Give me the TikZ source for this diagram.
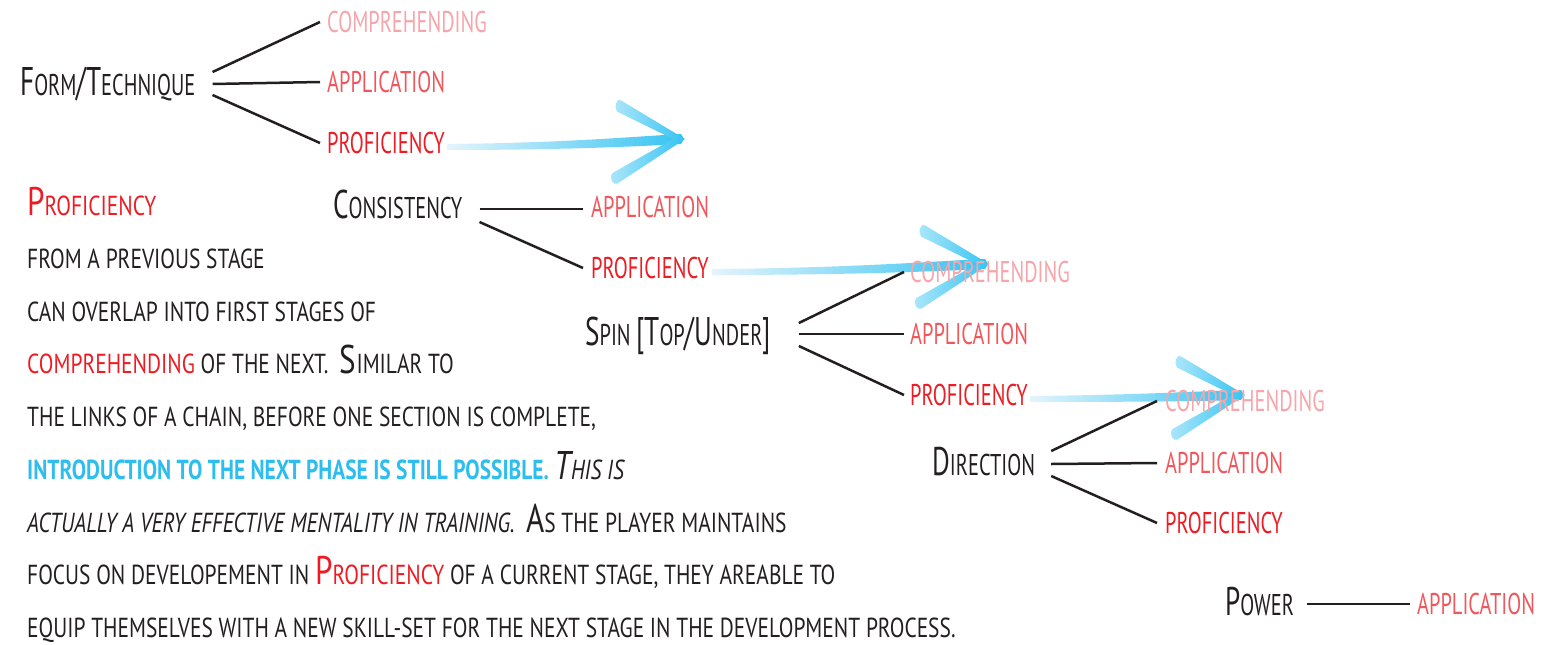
\documentclass[tikz,border=0pt]{standalone}
\usepackage{fontspec}
\setmainfont{PT Sans}[FakeStretch=0.68]
\newfontfamily\notefont{PT Sans}[FakeStretch=0.78]
\usetikzlibrary{positioning}

\definecolor{inkblack}{HTML}{231F20}
\definecolor{profred}{HTML}{ED1C24}
\definecolor{appred}{HTML}{F0575C}
\definecolor{comppink}{HTML}{F6A5AA}
\definecolor{arrowblue}{HTML}{33C3F2}
\definecolor{arrowlight}{HTML}{E4F4FC}
\definecolor{introblue}{HTML}{2DBDEE}

% bigger first letters for the small-caps look
\newcommand{\initcap}[1]{{\fontsize{40}{40}\selectfont #1}}

% blue hand-drawn arrow: tip, shaft length, drop of the shaft start
\newcommand{\flowarrow}[3]{%
  \begin{scope}[shift={(#1)}]
    \shade[left color=arrowlight, right color=arrowblue]
      (-#2,#3-3) .. controls (-0.5*#2,#3-4) and (-0.2*#2,0.3*#3-5) .. (-2,-5)
      -- (1,0) -- (-2,5)
      .. controls (-0.2*#2,0.3*#3+5) and (-0.5*#2,#3+3) .. (-#2,#3+3) -- cycle;
    \shade[left color=arrowblue!40!white, right color=arrowblue]
      (-61.9,-38.5) -- (2,0) -- (-10,0) -- (-66.1,-27.5)
      .. controls (-70,-33) and (-65,-42) .. (-61.9,-38.5) -- cycle;
    \shade[left color=arrowblue!40!white, right color=arrowblue]
      (2,0) -- (-65.5,44.5) .. controls (-69,47) and (-75,40) .. (-70.5,34)
      -- (-10,0) -- cycle;
  \end{scope}}

\begin{document}
\begin{tikzpicture}[x=1pt, y=-1pt]
\tikzstyle{heading} = [text=inkblack, inner sep=0pt, anchor=west, text height=22pt, text depth=0pt, font={\fontsize{30}{30}\selectfont}]
\tikzstyle{stage} = [inner sep=0pt, anchor=west, text height=21pt, text depth=0pt, font={\fontsize{30}{30}\selectfont}]
\tikzstyle{compr} = [stage, text=comppink]
\tikzstyle{appl} = [stage, text=appred]
\tikzstyle{prof} = [stage, text=profred]
\tikzstyle{branch} = [draw=inkblack, line width=2.5pt]
\tikzstyle{notes} = [text=inkblack, inner sep=0pt, anchor=north west, align=left, font={\notefont\fontsize{27.5}{52.75}\selectfont}]

\useasboundingbox (0,0) rectangle (1564,645);

% arrows go under the stage names
\coordinate (TipOne) at (683,139);
\coordinate (TipTwo) at (987,264);
\coordinate (TipThree) at (1243,395);
\flowarrow{TipOne}{236}{8}
\flowarrow{TipTwo}{275}{8}
\flowarrow{TipThree}{213}{4}

% Form/Technique
\node[heading] (Form) at (20,84) {\initcap{F}ORM\initcap{/}\initcap{T}ECHNIQUE};
\node[appl] (FormApp) at (327,82) {APPLICATION};
\node[compr, above=60pt of FormApp.west, anchor=west] (FormComp) {COMPREHENDING};
\node[prof, below=61pt of FormApp.west, anchor=west] (FormProf) {PROFICIENCY};

% Consistency
\node[heading] (Cons) at (333,207) {\initcap{C}ONSISTENCY};
\node[appl] (ConsApp) at (591,207) {APPLICATION};
\node[prof, below=61pt of ConsApp.west, anchor=west] (ConsProf) {PROFICIENCY};

% Spin
\node[heading] (Spin) at (585,334) {\initcap{S}PIN \initcap{[}\initcap{T}OP\initcap{/}\initcap{U}NDER\initcap{]}};
\node[appl] (SpinApp) at (910,334) {APPLICATION};
\node[compr, above=62pt of SpinApp.west, anchor=west] (SpinComp) {COMPREHENDING};
\node[prof, below=61pt of SpinApp.west, anchor=west] (SpinProf) {PROFICIENCY};

% Direction
\node[heading] (Dir) at (932,464) {\initcap{D}IRECTION};
\node[appl] (DirApp) at (1165,463) {APPLICATION};
\node[compr, above=62pt of DirApp.west, anchor=west] (DirComp) {COMPREHENDING};
\node[prof, below=60pt of DirApp.west, anchor=west] (DirProf) {PROFICIENCY};

% Power
\node[heading] (Power) at (1225,604) {\initcap{P}OWER};
\node[appl] (PowerApp) at (1417,604) {APPLICATION};

% branches
\draw[branch] ([xshift=17pt,yshift=12pt]Form.east) -- ([xshift=-7pt]FormComp.west);
\draw[branch] ([xshift=17pt]Form.east) -- ([xshift=-7pt]FormApp.west);
\draw[branch] ([xshift=17pt,yshift=-11pt]Form.east) -- ([xshift=-7pt]FormProf.west);

\draw[branch] ([xshift=17pt,yshift=-2pt]Cons.east) -- ([xshift=-8pt,yshift=-2pt]ConsApp.west);
\draw[branch] ([xshift=17pt,yshift=-15pt]Cons.east) -- ([xshift=-8pt]ConsProf.west);

\draw[branch] ([xshift=28pt,yshift=11pt]Spin.east) -- ([xshift=-6pt]SpinComp.west);
\draw[branch] ([xshift=28pt]Spin.east) -- ([xshift=-6pt]SpinApp.west);
\draw[branch] ([xshift=28pt,yshift=-12pt]Spin.east) -- ([xshift=-6pt]SpinProf.west);

\draw[branch] ([xshift=16pt,yshift=13pt]Dir.east) -- ([xshift=-8pt]DirComp.west);
\draw[branch] ([xshift=16pt]Dir.east) -- ([xshift=-8pt]DirApp.west);
\draw[branch] ([xshift=16pt,yshift=-12pt]Dir.east) -- ([xshift=-8pt]DirProf.west);

\draw[branch] ([xshift=13pt]Power.east) -- ([xshift=-7pt]PowerApp.west);

% the note on the left
\node[notes] (Note) at (27,187) {%
\textcolor{profred}{\initcap{P}ROFICIENCY}\\
FROM A PREVIOUS STAGE\\
CAN OVERLAP INTO FIRST STAGES OF\\
\textcolor{profred}{COMPREHENDING} OF THE NEXT.\ \ \initcap{S}IMILAR TO\\
THE LINKS OF A CHAIN, BEFORE ONE SECTION IS COMPLETE,\\
{\bfseries\color{introblue}INTRODUCTION TO THE NEXT PHASE IS STILL POSSIBLE.} {\itshape\initcap{T}HIS IS}\\
{\itshape ACTUALLY A VERY EFFECTIVE MENTALITY IN TRAINING.}\ \ \initcap{A}S THE PLAYER MAINTAINS\\
FOCUS ON DEVELOPEMENT IN \textcolor{profred}{\initcap{P}ROFICIENCY} OF A CURRENT STAGE, THEY AREABLE TO\\
EQUIP THEMSELVES WITH A NEW SKILL-SET FOR THE NEXT STAGE IN THE DEVELOPMENT PROCESS.};
\end{tikzpicture}
\end{document}
